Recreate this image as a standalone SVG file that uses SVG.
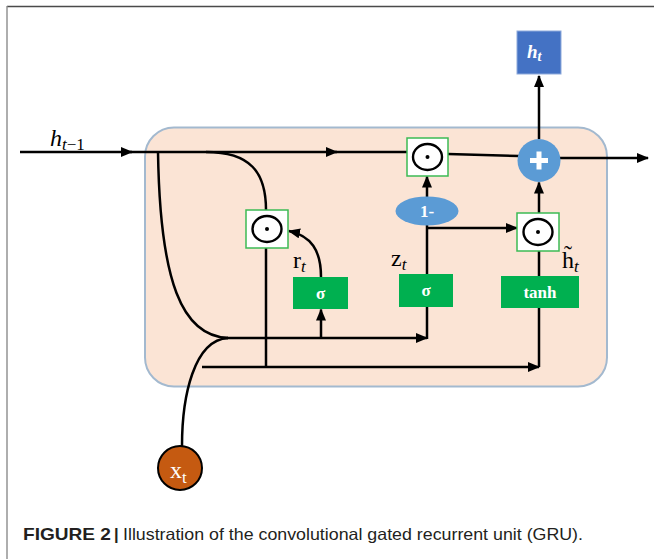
<svg xmlns="http://www.w3.org/2000/svg" width="654" height="559" viewBox="0 0 654 559">
  <style>
    .wire { fill: none; stroke: #000; stroke-width: 2.5; }
    .gate { fill: #00b050; }
    .gate-label { fill: #fff; font-family: "Liberation Serif", "DejaVu Serif", serif; font-weight: bold; font-size: 17px; text-anchor: middle; }
    .mult-box { fill: #fff; stroke: #3cba54; stroke-width: 1.5; }
    .mult-ring { fill: none; stroke: #000; stroke-width: 2.4; }
    .math { font-family: "Liberation Serif", "DejaVu Serif", serif; font-size: 24px; fill: #000; }
    .sub { font-size: 17px; font-style: italic; }
    .caption { font-family: "Liberation Sans Narrow", "Liberation Sans", Arial, sans-serif; font-size: 16.5px; fill: #231f20; }
  </style>
  <defs>
    <marker id="arrow" viewBox="0 0 12 10" refX="11" refY="5" markerWidth="12" markerHeight="10" markerUnits="userSpaceOnUse" orient="auto">
      <path d="M0,0 L12,5 L0,10 Z" fill="#000"/>
    </marker>
  </defs>

  <rect width="654" height="559" fill="#fff"/>

  <!-- figure frame -->
  <line x1="7" y1="6.5" x2="654" y2="6.5" stroke="#4a4a4a" stroke-width="1.4"/>
  <line x1="7" y1="6" x2="7" y2="559" stroke="#8c8c8c" stroke-width="1.4"/>

  <!-- cell body -->
  <g id="cell">
    <rect x="145" y="127.5" width="462" height="259" rx="29" ry="29" fill="#fbe4d5" stroke="#a3b9cf" stroke-width="2"/>
  </g>

  <!-- connectors -->
  <g id="connectors">
    <!-- previous hidden state -->
    <path class="wire" d="M20,152 H132" marker-end="url(#arrow)"/>
    <path class="wire" d="M130,152 H337" marker-end="url(#arrow)"/>
    <path class="wire" d="M335,152 H407"/>
    <path class="wire" d="M206,152 C250,152 266,172 266,210"/>
    <path class="wire" d="M158,152 C160,282 182,336 228,338"/>
    <!-- input x_t -->
    <path class="wire" d="M182,446 C182,396 194,340 228,338"/>
    <!-- shared input bus -->
    <path class="wire" d="M222,338 H427" marker-end="url(#arrow)"/>
    <path class="wire" d="M202,367 H539" marker-end="url(#arrow)"/>
    <!-- reset gate -->
    <path class="wire" d="M321,338 V309.5" marker-end="url(#arrow)"/>
    <path class="wire" d="M321,277 C321,250 311,236 289,231" marker-end="url(#arrow)"/>
    <path class="wire" d="M266,248 V367"/>
    <!-- update gate -->
    <path class="wire" d="M427,339 V307"/>
    <path class="wire" d="M427,274 V225"/>
    <path class="wire" d="M427,197 V176.5" marker-end="url(#arrow)"/>
    <path class="wire" d="M427,228 H517" marker-end="url(#arrow)"/>
    <!-- candidate state -->
    <path class="wire" d="M539,367 V307"/>
    <path class="wire" d="M539,276 V251"/>
    <path class="wire" d="M539,213 V182.5" marker-end="url(#arrow)"/>
    <!-- output -->
    <path class="wire" d="M448,154 L519,156"/>
    <path class="wire" d="M560,158 H648" marker-end="url(#arrow)"/>
    <path class="wire" d="M539,139 V76" marker-end="url(#arrow)"/>
  </g>

  <!-- label h_{t-1} -->
  <text class="math" x="50" y="146"><tspan font-style="italic">h</tspan><tspan class="sub" dy="4">t</tspan><tspan font-size="17" dy="0">−1</tspan></text>

  <!-- reset multiply -->
  <g id="mult-reset">
    <rect class="mult-box" x="246" y="210" width="42" height="38"/>
    <ellipse class="mult-ring" cx="267" cy="229" rx="14.5" ry="13"/>
    <circle cx="267" cy="229" r="2" fill="#000"/>
  </g>

  <!-- keep multiply (1 - z) -->
  <g id="mult-keep">
    <rect class="mult-box" x="407" y="138" width="41" height="38"/>
    <ellipse class="mult-ring" cx="427.5" cy="157" rx="14.5" ry="13"/>
    <circle cx="427.5" cy="157" r="2" fill="#000"/>
  </g>

  <!-- candidate multiply -->
  <g id="mult-cand">
    <rect class="mult-box" x="517" y="213" width="42" height="38"/>
    <ellipse class="mult-ring" cx="538" cy="232" rx="14.5" ry="13"/>
    <circle cx="538" cy="232" r="2" fill="#000"/>
  </g>

  <!-- reset gate sigma -->
  <g id="gate-reset">
    <rect class="gate" x="293" y="277" width="55" height="32"/>
    <text class="gate-label" x="320.5" y="299">σ</text>
  </g>
  <text class="math" x="293" y="268">r<tspan class="sub" dy="4">t</tspan></text>

  <!-- update gate sigma -->
  <g id="gate-update">
    <rect class="gate" x="399" y="274" width="54" height="33"/>
    <text class="gate-label" x="426" y="296">σ</text>
  </g>
  <text class="math" x="391" y="266">z<tspan class="sub" dy="4">t</tspan></text>

  <!-- one minus -->
  <g id="one-minus">
    <ellipse cx="427" cy="211" rx="31.5" ry="14.5" fill="#5b9bd5"/>
    <text class="gate-label" x="427" y="217" font-size="18">1-</text>
  </g>

  <!-- tanh -->
  <g id="gate-tanh">
    <rect class="gate" x="501" y="276" width="78" height="32"/>
    <text class="gate-label" x="540" y="298">tanh</text>
  </g>
  <text class="math" x="562" y="268">h̃<tspan class="sub" dy="4">t</tspan></text>

  <!-- sum -->
  <g id="sum">
    <circle cx="539" cy="160.5" r="21.5" fill="#5b9bd5"/>
    <rect x="530" y="158" width="18" height="5" fill="#fff"/>
    <rect x="536.5" y="151.5" width="5" height="18" fill="#fff"/>
  </g>

  <!-- output h_t -->
  <g id="h-out">
    <rect x="517" y="31" width="44" height="43" fill="#4472c4" stroke="#8eaadb" stroke-width="1"/>
    <text x="527" y="58" font-family="Liberation Serif, DejaVu Serif, serif" font-size="19" font-style="italic" font-weight="bold" fill="#fff">h<tspan font-size="14" dy="3">t</tspan></text>
  </g>

  <!-- input x_t -->
  <g id="x-in">
    <circle cx="180" cy="468" r="22" fill="#c55a11" stroke="#000" stroke-width="2"/>
    <text x="170" y="478" font-family="Liberation Serif, DejaVu Serif, serif" font-size="24" fill="#fff">x<tspan font-size="17" dy="5">t</tspan></text>
  </g>

  <!-- caption -->
  <text class="caption" x="23" y="540" font-weight="bold" textLength="88" lengthAdjust="spacingAndGlyphs">FIGURE 2</text>
  <text class="caption" x="114" y="540" font-weight="bold">|</text>
  <text class="caption" x="123" y="540" textLength="460" lengthAdjust="spacingAndGlyphs">Illustration of the convolutional gated recurrent unit (GRU).</text>
</svg>
